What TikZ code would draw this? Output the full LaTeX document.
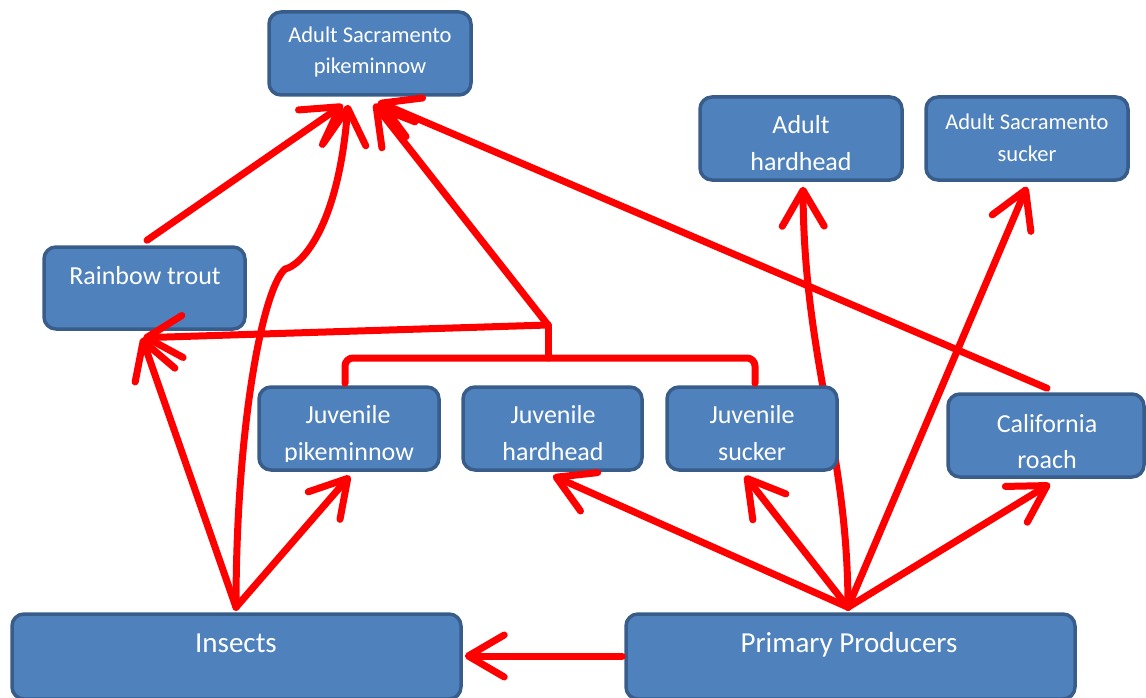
\documentclass[tikz,border=0pt]{standalone}
\usepackage{fontspec}
\setmainfont{Carlito}
\usetikzlibrary{arrows.meta,calc,backgrounds}
\definecolor{boxfill}{HTML}{4F81BD}
\definecolor{boxline}{HTML}{385D8A}
\begin{document}
\begin{tikzpicture}[x=1pt,y=-1pt,
  box/.style={draw=boxline,fill=boxfill,line width=3.5pt,rounded corners=12pt,inner sep=0pt},
  lbl/.style={text=white,anchor=base,inner sep=0pt},
  big/.style={lbl,font=\fontsize{29}{35}\selectfont},
  mid/.style={lbl,font=\fontsize{26}{31}\selectfont},
  sml/.style={lbl,font=\fontsize{22.5}{27}\selectfont},
  link/.style={draw=red,line width=7pt,line cap=round,line join=round},
  arr/.style={link,-{Straight Barb[length=36pt,width=42pt,round]}}]
\useasboundingbox (0,0) rectangle (1146,698);

% boxes
\node[box,minimum width=202pt,minimum height=83pt] (apm) at (370,53.5) {};
\node[box,minimum width=202pt,minimum height=83pt] (ahh) at (801,138.5) {};
\node[box,minimum width=202pt,minimum height=83pt] (ass) at (1027,138.5) {};
\node[box,minimum width=201pt,minimum height=82pt] (trout) at (144.5,288) {};
\node[box,minimum width=180pt,minimum height=83pt] (jpk) at (349,428.5) {};
\node[box,minimum width=179pt,minimum height=83pt] (jhh) at (552.5,428.5) {};
\node[box,minimum width=170pt,minimum height=83pt] (jsk) at (752,428.5) {};
\node[box,minimum width=196pt,minimum height=83pt] (roach) at (1046,435.5) {};
\node[box,minimum width=449pt,minimum height=85pt] (ins) at (236.5,656.5) {};
\node[box,minimum width=449pt,minimum height=85pt] (pp) at (850.5,656.5) {};

% texts
\node[sml] (apmA) at (370,43) {Adult Sacramento};
\node[sml] (apmB) at (370,74) {pikeminnow};
\node[mid] (ahhA) at (801,134) {Adult};
\node[mid] (ahhB) at (801,171) {hardhead};
\node[sml] (assA) at (1027,130) {Adult Sacramento};
\node[sml] (assB) at (1027,161) {sucker};
\node[mid] (troutA) at (145,284) {Rainbow trout};
\node[mid] (jpkA) at (348,423) {Juvenile};
\node[mid] (jhhA) at (553,423) {Juvenile};
\node[mid] (jskA) at (752,423) {Juvenile};
\begin{scope}
  \clip (250,380) rectangle (850,461);
  \node[mid] (jpkB) at (349,460) {pikeminnow};
  \node[mid] (jhhB) at (553,460) {hardhead};
  \node[mid] (jskB) at (752,460) {sucker};
\end{scope}
\node[mid] (roachA) at (1047,432) {California};
\node[mid] (roachB) at (1047,468) {roach};
\node[big] (insA) at (236,652) {Insects};
\node[big] (ppA) at (849,652) {Primary Producers};

% junction points
\coordinate (P0) at ($(pp.north)+(-2.5,-5)$);
\coordinate (I0) at ($(ins.north)+(-0.5,-5)$);
\coordinate (J) at (548,325);
\coordinate (J2) at (548,358);
\coordinate (bump) at (285,269);

% curve hidden behind juvenile sucker box
\begin{scope}[on background layer]
\draw[arr] (P0) .. controls (848,450) and (804,360) .. ($(ahh.south)+(2,5)$);
\end{scope}

% primary producers
\draw[arr] ($(pp.west)+(-2,-0.5)$) -- ($(ins.east)+(2,-0.5)$);
\draw[arr] (P0) -- ($(jhh.south)+(0.5,4)$);
\draw[arr] (P0) -- ($(jsk.south)+(-7,4)$);
\draw[arr] (P0) -- ($(roach.south)+(4,5)$);
\draw[arr] (P0) -- ($(ass.south)+(0,5)$);

% insects
\draw[arr] (I0) -- ($(trout.south)+(-2.5,7)$);
\draw[arr] (I0) -- ($(jpk.south)+(1,4)$);
\draw[arr] (I0) .. controls (236,430) and (262,290) .. (bump)
  .. controls (300,266) and (338,230) .. ($(apm.south)+(-22,8)$);

% to adult pikeminnow
\draw[arr] ($(trout.north)+(2.5,-5)$) -- ($(apm.south)+(-27,8)$);
\draw[arr] (J) -- ($(apm.south)+(4,7)$);
\draw[arr] ($(roach.north)+(1,-4)$) -- ($(apm.south)+(8,5)$);

% juvenile bracket
\draw[link,rounded corners=8pt] ($(jpk.north)+(-4,-2)$) |- (J2) -| ($(jsk.north)+(3,-2)$);
\draw[link] (J2) -- (J);
\draw[arr] (J) -- ($(trout.south)+(-1.5,7)$);
\end{tikzpicture}
\end{document}
